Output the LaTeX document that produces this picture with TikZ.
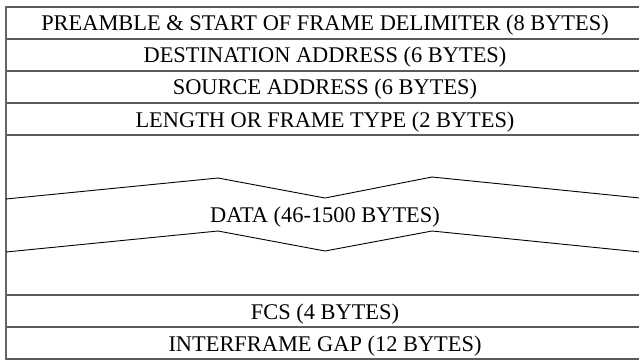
\documentclass[tikz,border=0pt]{standalone}
\usepackage{fontspec}
\setmainfont{Liberation Serif}
\begin{document}
\begin{tikzpicture}[x=1pt,y=-1pt,
  sep/.style={draw=black!65,line width=1.6pt},
  zig/.style={draw=black,line width=0.9pt,line join=miter},
  border/.style={draw=black!60,line width=1.4pt},
  lbl/.style={font=\fontsize{22.4}{25}\selectfont,inner sep=0pt,anchor=base}]
\useasboundingbox (0,0) rectangle (639,360);
\fill[white] (0,0) rectangle (639,360);
% row separators
\foreach \yy in {7,39,71,103,135,295,327,359}
  \draw[sep] (6,\yy) -- (640,\yy);
% left border
\draw[border] (6,6.2) -- (6,359.8);
% zigzag break lines
\draw[zig] (6,199) -- (218,178) -- (325,198) -- (432,177) -- (640,198);
\draw[zig] (6,252) -- (218,231) -- (325,251) -- (432,231) -- (640,252);
% labels
\node[lbl] (pre) at (325,30.5) {PREAMBLE \& START OF FRAME DELIMITER (8 BYTES)};
\node[lbl] (dst) at (325,62.5) {DESTINATION ADDRESS (6 BYTES)};
\node[lbl] (src) at (325,94.8) {SOURCE ADDRESS (6 BYTES)};
\node[lbl] (len) at (325,127) {LENGTH OR FRAME TYPE (2 BYTES)};
\node[lbl] (dat) at (325,222) {DATA (46-1500 BYTES)};
\node[lbl] (fcs) at (325,319) {FCS (4 BYTES)};
\node[lbl] (ifg) at (325,351.5) {INTERFRAME GAP (12 BYTES)};
\end{tikzpicture}
\end{document}
